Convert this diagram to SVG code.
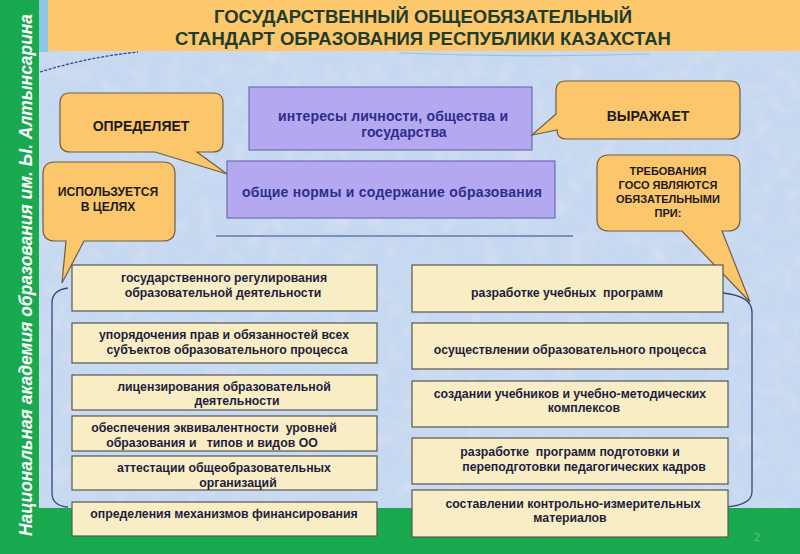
<svg xmlns="http://www.w3.org/2000/svg" width="800" height="554" viewBox="0 0 800 554">
<defs>
<filter id="tex" x="0" y="0" width="100%" height="100%">
<feTurbulence type="fractalNoise" baseFrequency="0.06" numOctaves="2" seed="3" result="n"/>
<feColorMatrix in="n" type="matrix" values="0 0 0 0 0.86  0 0 0 0 0.78  0 0 0 0 0.92  0 0 0 1.6 -0.75"/>
</filter>
</defs>
<style>
.callout{fill:#fcc66c;stroke:#6e5f3e;stroke-width:1.2}
.cap{font-family:"Liberation Sans",Arial,sans-serif;font-weight:bold;fill:#1c1c1c;text-anchor:middle}
.ttl{font-family:"Liberation Sans",Arial,sans-serif;font-weight:bold;font-size:18.5px;fill:#1f3d2a;text-anchor:middle}
.pbox{fill:#b4a9f1;stroke:#6e6db3;stroke-width:1.2}
.ptxt{font-family:"Liberation Sans",Arial,sans-serif;font-weight:bold;font-size:14px;fill:#2d2d8c;text-anchor:middle}
.bbox{fill:#f9edc6;stroke:#555555;stroke-width:1.2}
.btxt{font-family:"Liberation Sans",Arial,sans-serif;font-weight:bold;font-size:12.3px;fill:#1e1e3c;text-anchor:middle}
.br{fill:none;stroke:#34487c;stroke-width:1.3}
</style>
<rect x="0" y="0" width="800" height="554" fill="#19a94f"/>
<rect x="39" y="0" width="761" height="508" fill="#c6d9f0"/>
<rect x="39" y="0" width="761" height="508" filter="url(#tex)" opacity="0.5"/>
<rect x="39" y="0" width="10" height="52" fill="#8fc6e4"/>
<rect x="48" y="0" width="752" height="51" fill="#fdc76c"/>
<path d="M40,72 Q88,57 138,52" fill="none" stroke="#2a4a8a" stroke-width="1.3" stroke-dasharray="3,1.5"/>
<path d="M400,53 Q520,58 650,54" fill="none" stroke="#7fbcc8" stroke-width="1.2" opacity="0.7"/>
<text class="ttl" x="423" y="23">ГОСУДАРСТВЕННЫЙ ОБЩЕОБЯЗАТЕЛЬНЫЙ</text>
<text class="ttl" x="423" y="45">СТАНДАРТ ОБРАЗОВАНИЯ РЕСПУБЛИКИ КАЗАХСТАН</text>
<text transform="translate(32,536) rotate(-90)" x="0" y="0" font-family="Liberation Sans,Arial,sans-serif" font-weight="bold" font-style="italic" font-size="17.5" fill="#ffffff" textLength="522" lengthAdjust="spacingAndGlyphs">Национальная академия образования им. Ы. Алтынсарина</text>

<g id="connectors">
<path class="br" d="M68,288 Q52,290 52,303 V493 Q52,506 68,507"/>
<path class="br" d="M723,293 Q752,296 752,312 V492 Q752,505 725,507"/>
<line x1="216" y1="236" x2="573" y2="236" stroke="#34487c" stroke-width="1.2"/>
</g>

<g id="n-interesy">
<rect class="pbox" x="249" y="87" width="283" height="63"/>
<text class="ptxt" x="393" y="121" textLength="230" lengthAdjust="spacing">интересы личности, общества и</text>
<text class="ptxt" x="404" y="137">государства</text>
</g>
<g id="n-normy">
<rect class="pbox" x="227" y="161" width="328" height="57"/>
<text class="ptxt" x="392" y="197" textLength="300" lengthAdjust="spacing">общие нормы и содержание образования</text>
</g>

<g id="c-opredelyaet">
<path class="callout" d="M70,93 H213 Q223,93 223,103 V142 Q223,152 213,152 H197 L227,174 L155,152 H70 Q60,152 60,142 V103 Q60,93 70,93 Z"/>
<text class="cap" x="141" y="131" font-size="14">ОПРЕДЕЛЯЕТ</text>
</g>
<g id="c-vyrazhaet">
<path class="callout" d="M566,81 H730 Q740,81 740,91 V129 Q740,139 730,139 H566 Q557,139 557,130 L532,135 L556,114 V91 Q556,81 566,81 Z"/>
<text class="cap" x="648" y="121" font-size="14">ВЫРАЖАЕТ</text>
</g>
<g id="c-ispolzuetsya">
<path class="callout" d="M55,162 H163 Q175,162 175,174 V229 Q175,241 163,241 H84 L62,283 L66,241 H55 Q43,241 43,229 V174 Q43,162 55,162 Z"/>
<text class="cap" x="108" y="196" font-size="12.2">ИСПОЛЬЗУЕТСЯ</text>
<text class="cap" x="108" y="211" font-size="12.2">В ЦЕЛЯХ</text>
</g>
<g id="c-trebovaniya">
<path class="callout" d="M609,155 H728 Q740,155 740,167 V219 Q740,231 728,231 H722 L750,302 L682,231 H609 Q597,231 597,219 V167 Q597,155 609,155 Z"/>
<text class="cap" x="668" y="175" font-size="11">ТРЕБОВАНИЯ</text>
<text class="cap" x="668" y="189" font-size="11">ГОСО ЯВЛЯЮТСЯ</text>
<text class="cap" x="668" y="203" font-size="11">ОБЯЗАТЕЛЬНЫМИ</text>
<text class="cap" x="668" y="217" font-size="11">ПРИ:</text>
</g>

<g id="l1"><rect class="bbox" x="72" y="265" width="305" height="46"/>
<text class="btxt" x="224" y="282">государственного регулирования</text>
<text class="btxt" x="223" y="297">образовательной деятельности</text></g>
<g id="l2"><rect class="bbox" x="72" y="323" width="305" height="40"/>
<text class="btxt" x="224" y="339">упорядочения прав и обязанностей всех</text>
<text class="btxt" x="227" y="354">субъектов образовательного процесса</text></g>
<g id="l3"><rect class="bbox" x="72" y="375" width="305" height="35"/>
<text class="btxt" x="224" y="391">лицензирования образовательной</text>
<text class="btxt" x="237" y="405">деятельности</text></g>
<g id="l4"><rect class="bbox" x="72" y="416" width="305" height="35"/>
<text class="btxt" x="214" y="432" xml:space="preserve">обеспечения эквивалентности  уровней</text>
<text class="btxt" x="212" y="447" xml:space="preserve">образования и   типов и видов ОО</text></g>
<g id="l5"><rect class="bbox" x="72" y="456" width="305" height="34"/>
<text class="btxt" x="224" y="472">аттестации общеобразовательных</text>
<text class="btxt" x="238" y="487">организаций</text></g>
<g id="l6"><rect class="bbox" x="72" y="502" width="305" height="34"/>
<text class="btxt" x="224" y="518">определения механизмов финансирования</text></g>

<g id="r1"><rect class="bbox" x="412" y="265" width="311" height="47"/>
<text class="btxt" x="567" y="297" xml:space="preserve">разработке учебных  программ</text></g>
<g id="r2"><rect class="bbox" x="412" y="323" width="316" height="46"/>
<text class="btxt" x="570" y="354">осуществлении образовательного процесса</text></g>
<g id="r3"><rect class="bbox" x="412" y="381" width="316" height="46"/>
<text class="btxt" x="570" y="398">создании учебников и учебно-методических</text>
<text class="btxt" x="584" y="412">комплексов</text></g>
<g id="r4"><rect class="bbox" x="412" y="438" width="316" height="46"/>
<text class="btxt" x="570" y="456" xml:space="preserve">разработке  программ подготовки и</text>
<text class="btxt" x="584" y="471">переподготовки педагогических кадров</text></g>
<g id="r5"><rect class="bbox" x="412" y="490" width="316" height="47"/>
<text class="btxt" x="573" y="508">составлении контрольно-измерительных</text>
<text class="btxt" x="570" y="522">материалов</text></g>

<text x="757" y="541" font-family="Liberation Sans,Arial,sans-serif" font-size="11" fill="#5cc582" text-anchor="middle">2</text>
</svg>
